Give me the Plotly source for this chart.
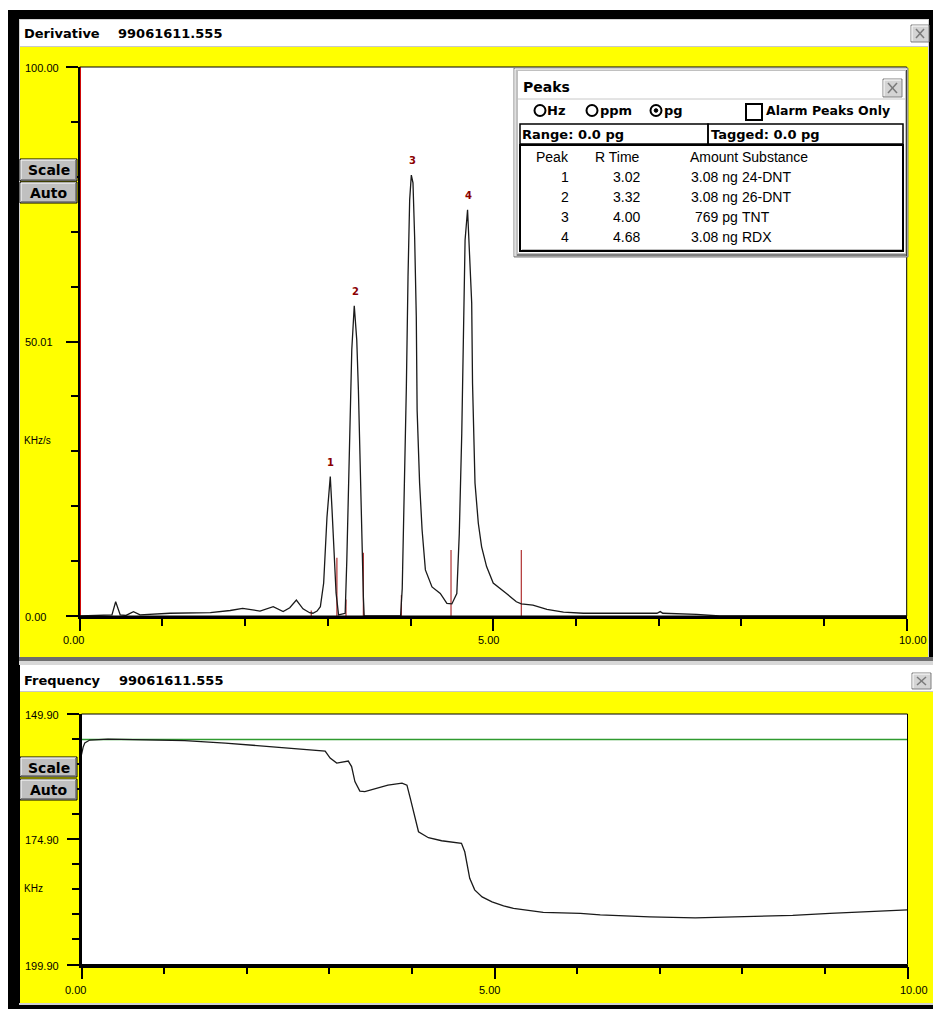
import plotly.graph_objects as go

W, H = 933, 1009

# ---------------- data ----------------
deriv_time = [0.00, 0.25, 0.39, 0.435, 0.49, 0.56, 0.65, 0.73, 1.09, 1.58, 1.82, 1.97, 2.08, 2.18,
              2.34, 2.46, 2.54, 2.62, 2.70, 2.78, 2.82, 2.87, 2.91, 2.95, 2.99, 3.03, 3.05, 3.07,
              3.10, 3.13, 3.21, 3.23, 3.27, 3.29, 3.32, 3.35, 3.37, 3.39, 3.41, 3.43, 3.44, 3.88,
              3.90, 3.92, 3.93, 3.95, 3.97, 3.99, 4.01, 4.03, 4.05, 4.07, 4.08, 4.11, 4.14, 4.18,
              4.26, 4.36, 4.44, 4.50, 4.56, 4.59, 4.62, 4.64, 4.66, 4.69, 4.71, 4.74, 4.75, 4.78,
              4.82, 4.86, 4.92, 5.00, 5.16, 5.28, 5.34, 5.48, 5.65, 5.85, 6.09, 6.98, 7.02, 7.05,
              7.46, 7.60, 7.74, 10.00]
deriv_signal = [0.0, 0.1, 0.2, 2.6, 0.2, 0.1, 0.8, 0.2, 0.5, 0.6, 1.0, 1.4, 1.1, 0.9,
                1.7, 0.8, 1.5, 2.9, 1.3, 0.6, 0.5, 0.9, 1.7, 6.0, 18.0, 25.4, 19.7, 13.8,
                4.2, 0.2, 0.5, 10.2, 33.3, 48.5, 56.5, 50.3, 41.2, 26.6, 13.3, 3.5, 0.0, 0.0,
                5.0, 18.0, 27.0, 41.8, 61.8, 75.8, 80.3, 78.9, 69.0, 54.5, 37.5, 24.2, 15.7, 8.4,
                5.3, 4.1, 2.3, 2.2, 4.1, 15.0, 33.3, 52.7, 68.5, 74.0, 66.7, 57.0, 42.4, 24.2,
                16.9, 12.6, 9.0, 6.0, 4.1, 2.6, 2.2, 2.0, 1.2, 0.7, 0.5, 0.5, 0.8, 0.5,
                0.3, 0.2, 0.0, 0.0]

marker_time = [2.80, 3.11, 3.22, 3.43, 3.89, 4.49, 5.34]
marker_height = [1.0, 10.6, 3.0, 11.5, 3.8, 12.0, 12.0]

peak_number = ["1", "2", "3", "4"]
peak_rtime = [3.02, 3.32, 4.00, 4.68]
peak_apex = [25.4, 56.5, 80.3, 74.0]
peak_rtime_text = ["3.02", "3.32", "4.00", "4.68"]
peak_amount = ["3.08 ng", "3.08 ng", "769 pg", "3.08 ng"]
peak_substance = ["24-DNT", "26-DNT", "TNT", "RDX"]

freq_time = [0.00, 0.02, 0.04, 0.10, 0.32, 1.25, 1.74, 2.02, 2.26, 2.50, 2.75, 2.95, 3.01, 3.09,
             3.23, 3.27, 3.31, 3.37, 3.43, 3.59, 3.71, 3.88, 3.94, 3.98, 4.02, 4.08, 4.20, 4.36,
             4.60, 4.64, 4.70, 4.76, 4.85, 4.97, 5.11, 5.23, 5.59, 6.04, 6.28, 6.88, 7.43, 8.01,
             8.61, 9.06, 9.51, 10.00]
freq_value = [158.0, 156.5, 155.7, 155.1, 154.9, 155.2, 155.7, 156.1, 156.4, 156.8, 157.1, 157.3, 158.7, 159.7,
              159.3, 160.4, 163.4, 165.3, 165.4, 164.6, 164.1, 163.7, 164.1, 166.7, 169.4, 173.4, 174.6, 175.2,
              175.7, 177.4, 182.7, 185.0, 186.4, 187.4, 188.2, 188.7, 189.5, 189.7, 190.0, 190.4, 190.6, 190.4,
              190.1, 189.7, 189.4, 189.0]
freq_reference = 155.0

x_tick_vals = [0, 5, 10]
x_tick_text = ["0.00", "5.00", "10.00"]
deriv_tick_vals = [0, 50, 100]
deriv_tick_text = ["0.00", "50.01", "100.00"]
freq_tick_vals = [149.9, 174.9, 199.9]
freq_tick_text = ["149.90", "174.90", "199.90"]

# ---------------- helpers ----------------
def fx(x):
    return x / W

def fy(y):
    return 1 - y / H

shapes = []
annotations = []

def rect(x0, y0, x1, y1, fill, line=None, lw=0, layer="below"):
    shapes.append(dict(type="rect", xref="paper", yref="paper",
                       x0=fx(x0), x1=fx(x1), y0=fy(y1), y1=fy(y0),
                       fillcolor=fill, line=dict(color=line or "rgba(0,0,0,0)", width=lw),
                       layer=layer))

def seg(x0, y0, x1, y1, color, lw=1, layer="above"):
    shapes.append(dict(type="line", xref="paper", yref="paper",
                       x0=fx(x0), x1=fx(x1), y0=fy(y0), y1=fy(y1),
                       line=dict(color=color, width=lw), layer=layer))

def circle(cx, cy, r, color, lw=2, fill="rgba(0,0,0,0)"):
    shapes.append(dict(type="circle", xref="paper", yref="paper",
                       x0=fx(cx - r), x1=fx(cx + r), y0=fy(cy + r), y1=fy(cy - r),
                       fillcolor=fill, line=dict(color=color, width=lw), layer="above"))

def text(x, y, s, size, bold=False, family="Liberation Sans", color="black", anchor="left"):
    annotations.append(dict(xref="paper", yref="paper", x=fx(x), y=fy(y),
                            text=("<b>%s</b>" % s) if bold else s, showarrow=False,
                            xanchor=anchor, yanchor="middle", borderpad=0,
                            font=dict(family=family, size=size, color=color)))

def button(x0, y0, x1, y1, label):
    rect(x0, y0, x1, y1, "#c0c0c0", "#000000", 1, layer="above")
    seg(x0 + 1, y0 + 1, x1 - 1, y0 + 1, "#ffffff", 1)
    seg(x0 + 1, y0 + 1, x0 + 1, y1 - 1, "#ffffff", 1)
    seg(x0 + 1, y1 - 1.5, x1 - 1, y1 - 1.5, "#808080", 1)
    seg(x1 - 1.5, y0 + 1, x1 - 1.5, y1 - 1, "#808080", 1)
    text((x0 + x1) / 2, (y0 + y1) / 2 + 0.5, label, 14, bold=True, family="DejaVu Sans", anchor="center")

def close_box(x0, y0, x1, y1):
    rect(x0, y0, x1, y1, "#d4d4d4", "#808080", 1, layer="above")
    seg(x0 + 1, y0 + 1, x1 - 1, y0 + 1, "#ffffff", 1)
    seg(x0 + 1, y0 + 1, x0 + 1, y1 - 1, "#ffffff", 1)
    seg(x0 + 5, y0 + 4, x1 - 5, y1 - 4, "#7a7a7a", 1.5)
    seg(x0 + 5, y1 - 4, x1 - 5, y0 + 4, "#7a7a7a", 1.5)

# ---------------- window chrome ----------------
rect(8, 10, 933, 1009, "#000000")
# derivative window
rect(19, 19, 929, 657, "#d4d4d4")
rect(20, 20, 928, 46, "#ffffff")
rect(20, 46, 928, 47, "#c8c8c8")
rect(20, 47, 928, 657, "#ffff00")
# separator
rect(19, 657, 933, 661, "#6e6e6e")
rect(19, 661, 933, 665, "#d8d8d8")
# frequency window
rect(20, 665, 933, 691, "#ffffff")
rect(20, 691, 933, 692, "#c8c8c8")
rect(20, 692, 933, 1003, "#ffff00")
rect(19, 1003, 933, 1005, "#d0d0d0")

# plot areas
D_L, D_R, D_T, D_B = 79.7, 906.7, 67, 616
F_L, F_R, F_T, F_B = 81.5, 907.5, 714, 964.5
rect(D_L, D_T, D_R, D_B, "#ffffff")
rect(F_L, F_T, F_R, F_B, "#ffffff")
rect(D_L, D_T, D_R, D_B, "rgba(0,0,0,0)", "#000000", 1, layer="above")
rect(F_L, F_T, F_R, F_B, "rgba(0,0,0,0)", "#000000", 1, layer="above")

# titles
text(23, 33.5, "Derivative", 13, bold=True, family="DejaVu Sans")
text(116.5, 33.5, "99061611.555", 13, bold=True, family="DejaVu Sans")
text(23, 680, "Frequency", 13, bold=True, family="DejaVu Sans")
text(118, 680, "99061611.555", 13, bold=True, family="DejaVu Sans")
close_box(911, 25, 929, 42)
close_box(912, 673, 931, 689)

# buttons
button(20, 159, 77, 181, "Scale")
button(20, 182, 77, 203, "Auto")
button(20, 757, 77, 777, "Scale")
button(20, 779, 77, 800, "Auto")

# unit labels
text(23, 440, "KHz/s", 10)
text(23, 888, "KHz", 10)

# ---------------- peaks dialog ----------------
rect(514, 68, 908, 257, "#c0c0c0", "#808080", 1, layer="above")
seg(515, 69, 907, 69, "#ffffff", 1)
seg(515, 69, 515, 256, "#ffffff", 1)
seg(517, 255, 907, 255, "#404040", 1)
seg(906.5, 70, 906.5, 256, "#404040", 1)
rect(518, 71, 905, 253, "#ffffff", layer="above")
seg(518, 99, 905, 99, "#c8c8c8", 1)
text(522, 87, "Peaks", 14, bold=True, family="DejaVu Sans")
close_box(883, 79, 902, 97)

circle(540, 110.5, 5.5, "#000000", 2)
text(546, 111, "Hz", 13, bold=True, family="DejaVu Sans")
circle(592, 110.5, 5.5, "#000000", 2)
text(598.5, 111, "ppm", 13, bold=True, family="DejaVu Sans")
circle(656, 110.5, 5.5, "#000000", 2)
circle(656, 110.5, 1.8, "#000000", 1, fill="#000000")
text(662.5, 111, "pg", 13, bold=True, family="DejaVu Sans")
rect(746, 104, 762, 120, "rgba(0,0,0,0)", "#000000", 2, layer="above")
text(764.5, 111, "Alarm Peaks Only", 12.5, bold=True, family="DejaVu Sans")

rect(520, 124, 708, 144, "rgba(0,0,0,0)", "#000000", 1.5, layer="above")
rect(708, 124, 903, 144, "rgba(0,0,0,0)", "#000000", 1.5, layer="above")
text(521, 134.5, "Range: 0.0 pg", 13, bold=True, family="DejaVu Sans")
text(710, 134.5, "Tagged: 0.0 pg", 13, bold=True, family="DejaVu Sans")

rect(520, 145, 903, 251, "rgba(0,0,0,0)", "#000000", 2, layer="above")
seg(522, 249.5, 902, 249.5, "#c0c0c0", 1)

COL_PEAK, COL_RT, COL_AMT, COL_SUB = 570, 640.5, 738.5, 741
HEAD_Y, ROW_DY = 157, 20
text(COL_PEAK, HEAD_Y, "Peak", 14, anchor="right")
text(COL_RT, HEAD_Y, "R Time", 14, anchor="right")
text(COL_AMT, HEAD_Y, "Amount", 14, anchor="right")
text(COL_SUB, HEAD_Y, "Substance", 14)
for i in range(len(peak_number)):
    yy = HEAD_Y + ROW_DY * (i + 1)
    text(COL_PEAK, yy, peak_number[i], 14, anchor="right")
    text(COL_RT, yy, peak_rtime_text[i], 14, anchor="right")
    text(COL_AMT, yy, peak_amount[i], 14, anchor="right")
    text(COL_SUB, yy, peak_substance[i], 14)

# ---------------- axis tick labels (as in the instrument software) ----------------
def xlabels(xref, ypix):
    shifts = [-6, -5, 6]
    for v, t, s in zip(x_tick_vals, x_tick_text, shifts):
        annotations.append(dict(xref=xref, yref="paper", x=v, y=fy(ypix), text=t, showarrow=False,
                                xanchor="center", yanchor="middle", xshift=s, borderpad=0,
                                font=dict(family="Liberation Sans", size=11, color="black")))

def ylabels(yref, vals, texts):
    for v, t in zip(vals, texts):
        annotations.append(dict(xref="paper", yref=yref, x=fx(24), y=v, text=t, showarrow=False,
                                xanchor="left", yanchor="middle", borderpad=0, yshift=-1,
                                font=dict(family="Liberation Sans", size=11, color="black")))

xlabels("x", 640)
xlabels("x2", 990)
ylabels("y", deriv_tick_vals, deriv_tick_text)
ylabels("y2", freq_tick_vals, freq_tick_text)

# peak number labels
for n, t, a in zip(peak_number, peak_rtime, peak_apex):
    annotations.append(dict(xref="x", yref="y", x=t, y=a, text="<b>%s</b>" % n, showarrow=False,
                            xanchor="center", yanchor="bottom", yshift=8, xshift=1.5, borderpad=0,
                            font=dict(family="DejaVu Sans", size=10, color="#8b0000")))

# ---------------- traces ----------------
fig = go.Figure()

mx, my = [], []
for t, h in zip(marker_time, marker_height):
    mx += [t, t, None]
    my += [0, h, None]
fig.add_trace(go.Scatter(x=mx, y=my, mode="lines", line=dict(color="#b03030", width=1.2),
                         xaxis="x", yaxis="y", hoverinfo="skip"))
fig.add_trace(go.Scatter(x=[deriv_time[0], deriv_time[0]], y=[0, 100], mode="lines",
                         line=dict(color="#ff0000", width=2.5), xaxis="x", yaxis="y"))
fig.add_trace(go.Scatter(x=deriv_time, y=deriv_signal, mode="lines",
                         line=dict(color="#1a1a1a", width=1.3), xaxis="x", yaxis="y"))

fig.add_trace(go.Scatter(x=[freq_time[0], freq_time[-1]], y=[freq_reference, freq_reference], mode="lines",
                         line=dict(color="#2f9a2f", width=1.5), xaxis="x2", yaxis="y2"))
fig.add_trace(go.Scatter(x=freq_time, y=freq_value, mode="lines",
                         line=dict(color="#1a1a1a", width=1.3), xaxis="x2", yaxis="y2"))

minor_common = dict(ticks="outside", ticklen=7, tickwidth=2, tickcolor="#000000")

fig.update_layout(
    width=W, height=H, margin=dict(l=0, r=0, t=0, b=0),
    paper_bgcolor="#ffffff", plot_bgcolor="rgba(0,0,0,0)",
    showlegend=False, shapes=shapes, annotations=annotations,
    xaxis=dict(domain=[fx(D_L), fx(D_R)], range=[0, 10], anchor="y",
               showgrid=False, zeroline=False, showline=True, linecolor="#000000", linewidth=2.5,
               ticks="outside", tickvals=x_tick_vals, ticklen=12, tickwidth=2, tickcolor="#000000",
               showticklabels=False, minor=dict(dtick=1, tick0=0, **minor_common), fixedrange=True),
    yaxis=dict(domain=[fy(D_B), fy(D_T)], range=[0, 100], anchor="x",
               showgrid=False, zeroline=False, showline=True, linecolor="#000000", linewidth=1.5,
               ticks="outside", tickvals=deriv_tick_vals, ticklen=12, tickwidth=2, tickcolor="#000000",
               showticklabels=False, minor=dict(dtick=10, tick0=0, **minor_common), fixedrange=True),
    xaxis2=dict(domain=[fx(F_L), fx(F_R)], range=[0, 10], anchor="y2",
                showgrid=False, zeroline=False, showline=True, linecolor="#000000", linewidth=2.5,
                ticks="outside", tickvals=x_tick_vals, ticklen=12, tickwidth=2, tickcolor="#000000",
                showticklabels=False, minor=dict(dtick=1, tick0=0, **minor_common), fixedrange=True),
    yaxis2=dict(domain=[fy(F_B), fy(F_T)], range=[freq_tick_vals[-1], freq_tick_vals[0]], anchor="x2",
                showgrid=False, zeroline=False, showline=True, linecolor="#000000", linewidth=2.5,
                ticks="outside", tickvals=freq_tick_vals, ticklen=12, tickwidth=2, tickcolor="#000000",
                showticklabels=False, minor=dict(dtick=5, tick0=freq_tick_vals[0], **minor_common),
                fixedrange=True),
)

fig.write_html("out.html", config={"displayModeBar": False},
               post_script="document.body.style.margin='0';document.body.style.overflow='hidden';")
